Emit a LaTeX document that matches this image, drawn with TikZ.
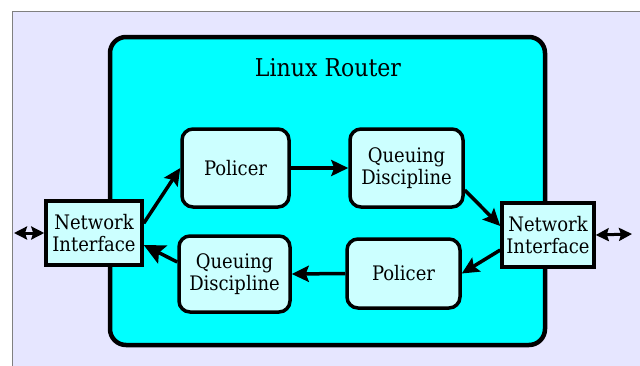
\documentclass[tikz,border=0pt]{standalone}
\usepackage{fontspec}
\setmainfont{DejaVu Serif Condensed}
\usetikzlibrary{arrows.meta}
\definecolor{lav}{HTML}{E6E6FF}
\definecolor{boxfill}{HTML}{CCFFFF}
\definecolor{routerfill}{HTML}{00FFFF}
\definecolor{framegray}{HTML}{808080}
\begin{document}
\begin{tikzpicture}[x=1pt,y=-1pt,
  unit/.style={draw=black,line width=3.5pt,fill=boxfill,rounded corners=11pt,align=center,font=\fontsize{20}{21.5}\selectfont,inner sep=0pt},
  iface/.style={draw=black,line width=3.5pt,fill=boxfill,align=center,font=\fontsize{20}{21.5}\selectfont,inner sep=0pt},
  flow/.style={line width=3.5pt,-{Stealth[length=17pt,width=16pt,inset=3pt]}},
  bigflow/.style={line width=3.5pt,-{Stealth[length=21pt,width=20pt,inset=4pt]}},
  bidir/.style={line width=3pt,{Stealth[length=13pt,width=13pt,inset=2pt]}-{Stealth[length=13pt,width=13pt,inset=2pt]}}]
\useasboundingbox (0,0) rectangle (640,365);
\fill[white] (0,0) rectangle (640,365);
\fill[lav] (12,11) rectangle (642,367);
\draw[framegray,line width=1pt] (12,367) -- (12,11) -- (642,11);
\draw[line width=4.5pt,fill=routerfill,rounded corners=16pt] (110,37) rectangle (545,345);
\node[font=\fontsize{24.5}{26}\selectfont] (title) at (328,68) {Linux Router};
\node[unit,minimum width=107pt,minimum height=78pt] (pol1) at (235.5,168) {Policer};
\node[unit,minimum width=113pt,minimum height=78pt] (qd1) at (406.5,168) {Queuing\\Discipline};
\node[unit,minimum width=111pt,minimum height=76pt] (qd2) at (234.5,274) {Queuing\\Discipline};
\node[unit,minimum width=113pt,minimum height=69pt] (pol2) at (403.5,273.5) {Policer};
\node[iface,minimum width=96pt,minimum height=64pt] (ni1) at (94,233) {Network\\Interface};
\node[iface,minimum width=92pt,minimum height=64pt] (ni2) at (548,235) {Network\\Interface};
\coordinate (lend) at (14,233);
\coordinate (rend) at (632,234);
\draw[flow] (ni1.north east) ++(0,24) -- (pol1.west);
\draw[flow] (pol1.east) -- (qd1.west);
\draw[flow] ([yshift=-22pt]qd1.east) -- ([yshift=9pt]ni2.west);
\draw[flow] ([yshift=-15pt]ni2.west) -- ([yshift=0pt]pol2.east);
\draw[flow] (pol2.west) -- (qd2.east);
\draw[bigflow] ([yshift=12pt]qd2.west) -- ([yshift=-12pt]ni1.east);
\draw[bidir] (lend) -- (ni1.west);
\draw[bidir] (ni2.east) -- (rend);
\end{tikzpicture}
\end{document}
